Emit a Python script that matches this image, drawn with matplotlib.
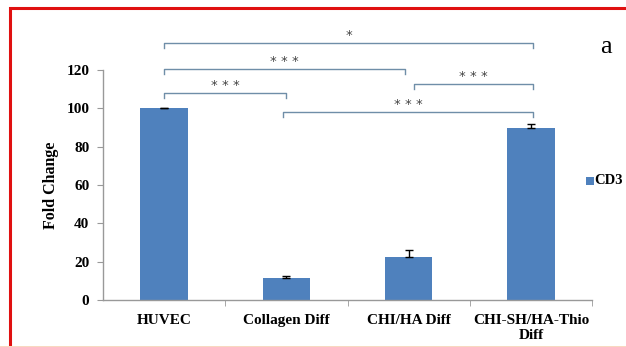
import matplotlib.pyplot as plt
from matplotlib.patches import Rectangle

# data
categories = ['HUVEC', 'Collagen Diff', 'CHI/HA Diff', 'CHI-SH/HA-Thio\nDiff']
fold_change = [100.0, 11.5, 22.3, 90.0]
errors = [0.4, 1.0, 3.6, 1.6]
series_name = 'CD3'

# significance brackets: (x_left, x_right, height, label)
brackets = [
    (0.0, 3.02, 134.0, '*'),
    (0.0, 1.97, 120.5, '* * *'),
    (2.04, 3.02, 112.5, '* * *'),
    (0.0, 1.0, 108.0, '* * *'),
    (0.97, 3.02, 98.0, '* * *'),
]

plt.rcParams['font.family'] = ['Liberation Serif', 'DejaVu Serif']

fig = plt.figure(figsize=(6.26, 3.47), dpi=100)
fig.patch.set_facecolor('white')

# red frame around the figure (cut off on the right)
fig.patches.append(Rectangle((10 / 626, -0.01), 1.2, (347 - 8) / 347 + 0.01,
                             transform=fig.transFigure, fill=False,
                             edgecolor='#e01010', linewidth=2.2))
fig.patches.append(Rectangle((0, 0), 1, 1.5 / 347, transform=fig.transFigure,
                             facecolor='#f8d8c0', edgecolor='none'))

ax = fig.add_axes([103 / 626, 47 / 347, 489 / 626, 230 / 347])
x = range(len(categories))
# excel style: only the upper half of the error bar is visible
ax.bar(x, fold_change, width=0.39, color='#4f81bd',
       yerr=[[0] * len(errors), errors],
       error_kw=dict(ecolor='black', elinewidth=1, capsize=3, capthick=1),
       label=series_name, zorder=2)

ax.set_xlim(-0.5, 3.5)
ax.set_ylim(0, 120)
ax.set_yticks(range(0, 121, 20))
ax.set_xticks(list(x))
ax.set_xticklabels(categories, fontweight='bold', fontsize=11)
ax.set_xticks([0.5, 1.5, 2.5, 3.5], minor=True)
ax.tick_params(axis='x', which='major', length=0, pad=10)
ax.tick_params(axis='x', which='minor', length=4, color='#999999')
ax.tick_params(axis='y', length=4.3, color='#999999', labelsize=11, pad=5.5)
for lab in ax.get_yticklabels():
    lab.set_fontweight('bold')

for s in ['top', 'right']:
    ax.spines[s].set_visible(False)
for s in ['left', 'bottom']:
    ax.spines[s].set_color('#999999')
    ax.spines[s].set_linewidth(1)

ax.set_ylabel('Fold Change', fontweight='bold', fontsize=11.5, labelpad=5)

for x0, x1, h, lab in brackets:
    ax.plot([x0, x0, x1, x1], [h - 2.6, h, h, h - 2.6], color='#6f8ea8',
            linewidth=1, clip_on=False, zorder=3)
    ax.text((x0 + x1) / 2, h + 0.6, lab, ha='center', va='bottom',
            fontsize=9.5, color='#444444', family='DejaVu Sans', clip_on=False)

# legend: square marker and text, running off the right edge
fig.patches.append(Rectangle((586 / 626, (347 - 185) / 347), 8 / 626, 8 / 347,
                             transform=fig.transFigure, facecolor='#4f81bd',
                             edgecolor='none'))
fig.text(594 / 626, (347 - 181) / 347, series_name, fontsize=10.5,
         fontweight='bold', va='center', ha='left')

fig.text(606 / 626, (347 - 47) / 347, 'a', fontsize=19, va='center', ha='center')

fig.savefig('out.png', dpi=100)
